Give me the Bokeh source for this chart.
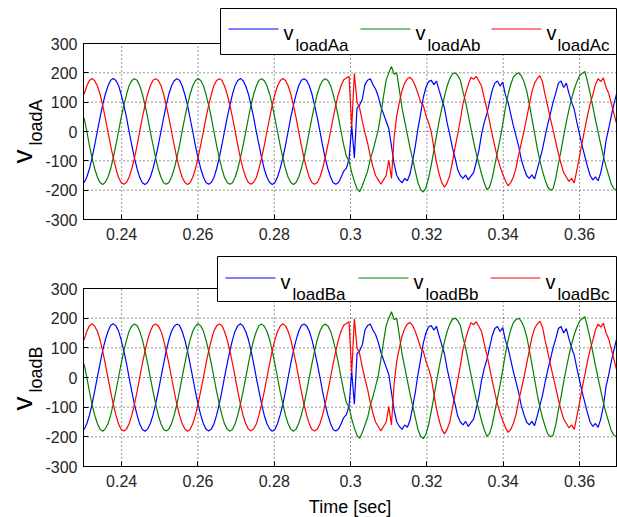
import numpy as np
from bokeh.plotting import figure
from bokeh.layouts import column
from bokeh.models import (ColumnDataSource, Range1d, FixedTicker, BoxAnnotation,
                          Label, CustomJSTickFormatter)
from bokeh.embed import file_html
from bokeh.resources import INLINE

# ---------------- data ----------------
t_start = 0.230161          # first sample time [s]
t_step = 1 / 1440           # sample interval [s]
t_min, t_max = 0.23, 0.3697
v_min, v_max = -300, 300

x_ticks = [0.24, 0.26, 0.28, 0.30, 0.32, 0.34, 0.36]
y_ticks = [-300, -200, -100, 0, 100, 200, 300]

vloadAa = [
    -175, -156, -128, -90, -46, 1, 47, 91, 127, 155, 175,
    181, 174, 157, 126, 89, 48, -1, -47, -91, -127, -157, -175,
    -181, -173, -155, -127, -89, -47, 0, 46, 90, 128, 156, 173,
    180, 175, 156, 127, 91, 46, 0, -48, -90, -126, -155, -174,
    -180, -174, -157, -127, -90, -46, 1, 47, 89, 127, 157, 174,
    181, 173, 155, 128, 90, 47, -1, -46, -90, -128, -156, -173,
    -181, -175, -155, -126, -91, -47, 0, 48, 90, 126, 156, 175,
    180, 174, 156, 127, 89, 47, 1, -47, -91, -127, -155, -175,
    -180, -174, -156, -135,
    -125, -95, 20, -90, 80, 90, 110, 160, 175, 180, 160, 145,
    120, 85, 60, 35, 10, -50, -110, -150, -165, -175, -160, -168,
    -145, -100, -50, 10, 60, 115, 150, 170, 175, 160, 172, 140,
    110, 80, 30, -10, -55, -90, -130, -150, -160, -148, -165, -152,
    -140, -105, -65, -10, 30, 60, 100, 140, 165, 172, 155, 168,
    125, 100, 60, 20, -15, -50, -95, -125, -150, -160, -148, -162,
    -130, -95, -60, -16, 25, 62, 100, 130, 165, 172, 150, 165,
    130, 100, 75, 30, -10, -50, -85, -120, -150, -165, -155, -168,
    -140, -95, -30, 10, 55, 95, 130, 160,
]

vloadAb = [
    46, 1, -47, -91, -127, -155, -174, -181, -173, -156, -128,
    -90, -46, 0, 48, 90, 126, 157, 174, 180, 175, 156, 127,
    89, 47, -1, -46, -90, -128, -156, -175, -180, -174, -155, -127,
    -91, -47, 1, 47, 89, 127, 156, 173, 181, 174, 157, 126,
    90, 48, 0, -47, -90, -126, -157, -174, -180, -175, -156, -127,
    -89, -47, -1, 46, 91, 127, 155, 175, 180, 173, 156, 128,
    90, 46, 0, -48, -89, -127, -156, -174, -181, -174, -155, -126,
    -90, -47, 1, 47, 90, 128, 156, 174, 180, 174, 157, 127,
    90, 47, 0, -47,
    -85, -100, -140, -170, -195, -205, -185, -160, -135, -95, -65, -30,
    5, 60, 120, 175, 200, 222, 195, 200, 140, 80, 35, -10,
    -55, -95, -135, -175, -198, -206, -192, -160, -115, -65, -15, 35,
    80, 120, 155, 180, 196, 200, 192, 175, 135, 100, 55, 10,
    -35, -75, -110, -145, -175, -198, -190, -160, -115, -70, -25, 25,
    80, 125, 160, 185, 195, 200, 190, 170, 140, 95, 45, -5,
    -55, -100, -135, -165, -190, -200, -195, -160, -110, -65, -15, 32,
    75, 112, 145, 170, 190, 198, 205, 170, 130, 85, 40, -2,
    -45, -85, -120, -150, -180, -195, -200, -190,
]

vloadAc = [
    127, 155, 174, 181, 173, 156, 128, 90, 46, -1, -47,
    -90, -126, -157, -175, -180, -174, -155, -127, -91, -47, 1, 48,
    90, 128, 156, 175, 180, 174, 157, 127, 89, 47, 0, -46,
    -91, -127, -156, -173, -181, -175, -156, -128, -90, -46, -1, 47,
    89, 126, 157, 174, 180, 175, 155, 127, 91, 48, 1, -47,
    -90, -128, -156, -174, -180, -173, -157, -126, -90, -47, 0, 46,
    90, 127, 155, 173, 181, 174, 156, 128, 89, 47, -1, -48,
    -91, -127, -157, -175, -180, -174, -156, -127, -90, -46, 0, 47,
    90, 128, 157, 176,
    182, 188, 15, 198, 100, 80, 35, -5, -40, -85, -120, -150,
    -165, -180, -165, -150, -98, -160, -20, 55, 100, 140, 165, 180,
    185, 175, 155, 130, 100, 90, 55, 30, 0, -55, -105, -145,
    -175, -190, -175, -150, -105, -55, -10, 40, 95, 130, 160, 185,
    178, 188, 172, 155, 115, 77, 35, -10, -50, -90, -120, -145,
    -168, -185, -175, -155, -125, -80, -40, 0, 45, 90, 135, 165,
    180, 190, 170, 125, 85, 43, 5, -35, -75, -110, -140, -155,
    -170, -160, -175, -130, -85, -35, 10, 55, 95, 125, 160, 180,
    170, 183, 150, 130, 95, 60, 25, -10,
]

# load B traces read identical to load A traces
vloadBa = list(vloadAa)
vloadBb = list(vloadAb)
vloadBc = list(vloadAc)

time = t_start + t_step * np.arange(len(vloadAa))

FONT = "Liberation Sans"
COLORS = ["#0000ff", "#008000", "#ff0000"]
W = 617
BOX_L, BOX_R = 83, 616        # axes box pixel columns


def make_fig(H, box_top, box_bot, series, names, ysub, leg, ylab):
    pps_x = (BOX_R - BOX_L) / (t_max - t_min)
    pps_y = (box_bot - box_top) / (v_max - v_min)
    xr = Range1d(t_min - BOX_L / pps_x, t_max + (W - BOX_R) / pps_x)
    yr = Range1d(v_min - (H - box_bot) / pps_y, v_max + box_top / pps_y)
    p = figure(width=W, height=H, x_range=xr, y_range=yr,
               output_backend="svg", toolbar_location=None,
               min_border_left=0, min_border_right=0,
               min_border_top=0, min_border_bottom=0)
    p.background_fill_color = "white"
    p.border_fill_color = "white"
    p.outline_line_color = None
    p.xgrid.visible = False
    p.ygrid.visible = False

    # dotted grid inside the axes box, from the tick lists
    p.segment(x0=x_ticks, y0=[v_min] * len(x_ticks), x1=x_ticks, y1=[v_max] * len(x_ticks),
              line_color="black", line_dash="1 3", line_width=1, line_alpha=0.85)
    p.segment(x0=[t_min] * len(y_ticks), y0=y_ticks, x1=[t_max] * len(y_ticks), y1=y_ticks,
              line_color="black", line_dash="1 3", line_width=1, line_alpha=0.85)

    src = ColumnDataSource(dict(t=time, a=series[0], b=series[1], c=series[2]))
    for key, col in zip(["a", "b", "c"], COLORS):
        p.line("t", key, source=src, line_color=col, line_width=1.2)

    # axes box
    p.add_layout(BoxAnnotation(left=t_min, right=t_max, bottom=v_min, top=v_max,
                               fill_alpha=0, line_color="black", line_width=1,
                               line_alpha=1))

    xa, ya = p.xaxis[0], p.yaxis[0]
    xa.fixed_location = v_min
    ya.fixed_location = t_min
    xa.bounds = (t_min, t_max)
    ya.bounds = (v_min, v_max)
    xa.ticker = FixedTicker(ticks=x_ticks)
    ya.ticker = FixedTicker(ticks=y_ticks)
    xa.formatter = CustomJSTickFormatter(code="return String(Math.round(tick*100)/100);")
    ya.formatter = CustomJSTickFormatter(code="return String(Math.round(tick));")
    for ax in (xa, ya):
        ax.axis_line_color = "black"
        ax.major_tick_line_color = "black"
        ax.major_tick_in = 5
        ax.major_tick_out = 0
        ax.minor_tick_line_color = None
        ax.major_label_text_font = FONT
        ax.major_label_text_font_size = "16px"
        ax.major_label_text_color = "#262626"
    xa.major_label_standoff = 8
    ya.major_label_standoff = 6

    # y label: v with subscript
    vy, sy = ylab
    p.add_layout(Label(x=22, y=vy, x_units="screen", y_units="screen",
                       text="v", angle=np.pi / 2, text_font=FONT,
                       text_font_size="28px", text_color="black",
                       text_baseline="alphabetic", text_align="left"))
    p.add_layout(Label(x=35, y=sy, x_units="screen", y_units="screen",
                       text=ysub, angle=np.pi / 2, text_font=FONT,
                       text_font_size="18px", text_color="black",
                       text_baseline="alphabetic", text_align="left"))

    # legend box
    p.add_layout(BoxAnnotation(left=leg["left"], right=BOX_R, top=leg["top"],
                               bottom=leg["bottom"],
                               left_units="screen", right_units="screen",
                               top_units="screen", bottom_units="screen",
                               fill_color="white", fill_alpha=1,
                               line_color="black", line_width=1, line_alpha=1))
    for i, name in enumerate(names):
        x0, x1, vx, sx = leg["entries"][i]
        p.add_layout(BoxAnnotation(left=x0, right=x1, bottom=leg["ly"], top=leg["ly"] + 1,
                                   left_units="screen", right_units="screen",
                                   top_units="screen", bottom_units="screen",
                                   fill_color=COLORS[i], fill_alpha=1,
                                   line_color=None))
        p.add_layout(Label(x=vx, y=leg["ly"] - 3, x_units="screen", y_units="screen",
                           text="v", text_font=FONT, text_font_size="20px",
                           text_color="black", text_baseline="alphabetic"))
        p.add_layout(Label(x=sx, y=leg["ly"] - 16, x_units="screen", y_units="screen",
                           text=name, text_font=FONT, text_font_size="17px",
                           text_color="black", text_baseline="alphabetic"))
    return p


H1, H2 = 255, 262
leg_top = dict(left=220, top=H1 - 8, bottom=H1 - 54, ly=H1 - 29,
               entries=[(228, 278, 283, 295), (360, 410, 415, 427), (491, 541, 546, 557)])
leg_bot = dict(left=217, top=H2 - 1, bottom=H2 - 46, ly=H2 - 23,
               entries=[(225, 275, 280, 292), (358, 408, 413, 425), (490, 540, 545, 557)])

p1 = make_fig(H1, 43, 219, [vloadAa, vloadAb, vloadAc],
              ["loadAa", "loadAb", "loadAc"], "loadA", leg_top, (H1 - 163, H1 - 145))
p2 = make_fig(H2, 33, 211, [vloadBa, vloadBb, vloadBc],
              ["loadBa", "loadBb", "loadBc"], "loadB", leg_bot, (H2 - 155, H2 - 137))
p2.add_layout(Label(x=(BOX_L + BOX_R) / 2, y=H2 - 251, x_units="screen", y_units="screen",
                    text="Time [sec]", text_font=FONT, text_font_size="18px",
                    text_color="black", text_align="center",
                    text_baseline="alphabetic"))

layout = column(p1, p2, spacing=0)
open("out.html", "w").write(file_html(layout, INLINE))
